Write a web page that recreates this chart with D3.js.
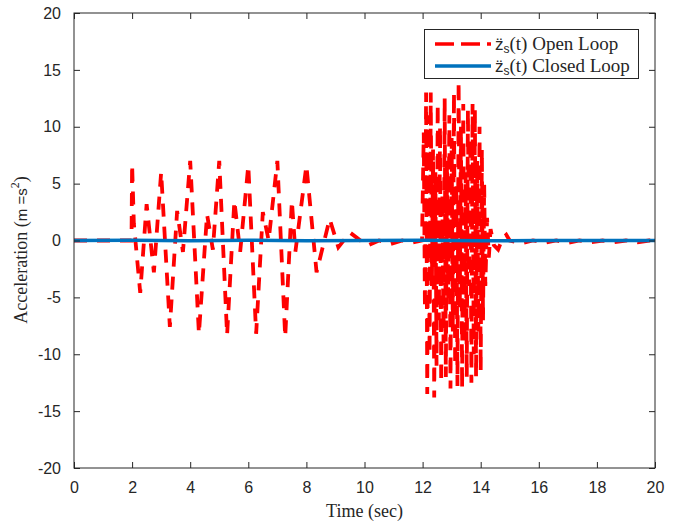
<!DOCTYPE html>
<html>
<head>
<meta charset="utf-8">
<script src="https://cdn.jsdelivr.net/npm/d3@7"></script>
<style>
  body { margin: 0; background: #fff; }
  svg { display: block; }
  .tick text { font-family: "Liberation Sans", Arial, sans-serif; font-size: 16px; fill: #262626; }
  .serif { font-family: "Liberation Serif", "Times New Roman", serif; fill: #262626; }
</style>
</head>
<body>
<svg width="684" height="525"></svg>
<script>
// open loop response (time in sec, accel in m/s^2)
const openTime = [
  0, 1.98, 2.0, 2.06, 2.28, 2.5, 2.75, 3.0, 3.3, 3.55, 3.75, 4.0, 4.3, 4.58, 4.78,
  5.0, 5.27, 5.52, 5.72, 6.0, 6.27, 6.5, 6.7, 7.0, 7.27, 7.5, 7.62, 8.0, 8.35,
  8.8, 9.1, 9.5, 10.1, 10.5, 10.9, 11.3, 11.6, 11.98,
  12.04, 12.08, 12.12, 12.16, 12.2, 12.24, 12.28, 12.32, 12.36, 12.4, 12.44, 12.48,
  12.52, 12.56, 12.6, 12.64, 12.68, 12.72, 12.76, 12.8, 12.84, 12.88, 12.92, 12.96,
  13.0, 13.04, 13.08, 13.12, 13.16, 13.2, 13.24, 13.28, 13.32, 13.36, 13.4, 13.44,
  13.48, 13.52, 13.56, 13.6, 13.64, 13.68, 13.72, 13.76, 13.8, 13.84, 13.88, 13.92,
  13.96, 14.0, 14.04, 14.08, 14.12, 14.16, 14.22, 14.28, 14.34, 14.45, 14.6, 14.75,
  14.88, 15.0, 15.4, 15.8, 16.2, 16.6, 17.0, 17.4, 17.8, 18.2, 18.6, 19.0, 19.4,
  19.8, 20
];
const openAccel = [
  0, 0, 6.7, 1.5, -4.6, 3.2, -2.8, 6.0, -7.6, 2.6, -1.0, 7.0, -8.2, 2.3, -0.8,
  7.0, -8.3, 3.5, -1.0, 6.6, -8.2, 2.5, 0.0, 7.0, -8.5, 3.5, -1.0, 6.6, -2.8,
  1.9, -0.6, 0.7, -0.45, 0.0, -0.3, 0.0, -0.2, 0,
  9.5, -6, 13.0, -13.5, 11, -10, 13, -4, 8, -13.8, 6, -11,
  12, -7, 10, -12.5, 4, -9, 12.5, -12, 7, -5, 11, -13,
  9, -8, 13, -11, 5, -12.8, 14, -6, 10, -13, 12, -9,
  6, -12, 11.5, -4, 9, -12.5, 12, -10, 11.5, -12, 7, -8,
  10, -11.5, 8, -7, 5, -4, 2, -1.5, 1, -0.4, -0.8, 0.2,
  0.5, 0.0, -0.25, 0.0, -0.2, 0.0, -0.2, 0.0, -0.15, 0.0, -0.15, 0.0, -0.15,
  0.0, 0
];
// closed loop response stays at zero
const closedTime = [0, 2, 4, 6, 8, 10, 12, 14, 16, 18, 20];
const closedAccel = [0, 0.02, -0.02, 0.02, -0.02, 0, 0.03, -0.03, 0, 0, 0];

const xTicks = [0, 2, 4, 6, 8, 10, 12, 14, 16, 18, 20];
const yTicks = [-20, -15, -10, -5, 0, 5, 10, 15, 20];

const margin = {top: 13, right: 29, bottom: 57, left: 74},
    width = 684 - margin.left - margin.right,
    height = 525 - margin.top - margin.bottom;

const svg = d3.select("svg");

const x = d3.scaleLinear().domain([0, 20]).range([0, width]);
const y = d3.scaleLinear().domain([-20, 20]).range([height, 0]);

const g = svg.append("g").attr("transform", `translate(${margin.left},${margin.top})`);

g.append("clipPath").attr("id", "clip")
  .append("rect").attr("width", width).attr("height", height);

const line = d3.line()
    .x(d => x(d[0]))
    .y(d => y(d[1]));

const openData = openTime.map((t, i) => [t, openAccel[i]]);
const closedData = closedTime.map((t, i) => [t, closedAccel[i]]);

const plot = g.append("g").attr("clip-path", "url(#clip)");

plot.append("path")
    .datum(openData)
    .attr("d", line)
    .attr("fill", "none")
    .attr("stroke", "#ff0000")
    .attr("stroke-width", 3.8)
    .attr("stroke-dasharray", "13,10");

plot.append("path")
    .datum(closedData)
    .attr("d", line)
    .attr("fill", "none")
    .attr("stroke", "#0072bd")
    .attr("stroke-width", 3.5);

// axes, ticks pointing inward, box all round
const axisColor = "#262626";
const plain = d => String(d);   // hyphen minus like the original
function styleAxis(sel) {
  sel.select(".domain").remove();
  sel.selectAll(".tick line").attr("stroke", axisColor);
}

g.append("g")
    .attr("transform", `translate(0,${height})`)
    .call(d3.axisBottom(x).tickValues(xTicks).tickSizeInner(-6).tickSizeOuter(0).tickPadding(14).tickFormat(plain))
    .call(styleAxis);

g.append("g")
    .call(d3.axisTop(x).tickValues(xTicks).tickSizeInner(-6).tickSizeOuter(0).tickFormat(""))
    .call(styleAxis);

g.append("g")
    .call(d3.axisLeft(y).tickValues(yTicks).tickSizeInner(-6).tickSizeOuter(0).tickPadding(13).tickFormat(plain))
    .call(styleAxis);

g.append("g")
    .attr("transform", `translate(${width},0)`)
    .call(d3.axisRight(y).tickValues(yTicks).tickSizeInner(-6).tickSizeOuter(0).tickFormat(""))
    .call(styleAxis);

g.append("rect")
    .attr("width", width)
    .attr("height", height)
    .attr("fill", "none")
    .attr("stroke", axisColor)
    .attr("stroke-width", 1);

// axis labels
svg.append("text")
    .attr("class", "serif")
    .attr("x", margin.left + width / 2)
    .attr("y", 517)
    .attr("text-anchor", "middle")
    .attr("font-size", 18)
    .text("Time (sec)");

const yl = svg.append("text")
    .attr("class", "serif")
    .attr("transform", "translate(27,250) rotate(-90)")
    .attr("text-anchor", "middle")
    .attr("font-size", 18);
yl.append("tspan").text("Acceleration (");
yl.append("tspan").attr("font-family", "Liberation Sans, sans-serif").attr("font-size", 15).text("m =s");
yl.append("tspan").attr("font-size", 12).attr("dy", -8).text("2");
yl.append("tspan").attr("dy", 8).text(")");

// legend
const legend = svg.append("g");
legend.append("rect")
    .attr("x", 424.5).attr("y", 29.5)
    .attr("width", 214).attr("height", 49)
    .attr("fill", "#fff")
    .attr("stroke", axisColor)
    .attr("stroke-width", 1);

const entries = [
  {name: "Open Loop", color: "#ff0000", dash: "19,7"},
  {name: "Closed Loop", color: "#0072bd", dash: null}
];
entries.forEach((e, i) => {
  const ly = 44 + i * 22;
  legend.append("line")
      .attr("x1", 435).attr("x2", 491)
      .attr("y1", ly).attr("y2", ly)
      .attr("stroke", e.color)
      .attr("stroke-width", 3.5)
      .attr("stroke-dasharray", e.dash);
  const t = legend.append("text")
      .attr("class", "serif")
      .attr("x", 495)
      .attr("y", ly + 6)
      .attr("font-size", 19);
  t.append("tspan").attr("font-family", "Liberation Sans, sans-serif").attr("font-size", 17).text("z\u0308");
  t.append("tspan").attr("font-family", "Liberation Sans, sans-serif").attr("font-size", 12).attr("dy", 3).text("s");
  t.append("tspan").attr("dy", -3).text("(t) " + e.name);
});
</script>
</body>
</html>
